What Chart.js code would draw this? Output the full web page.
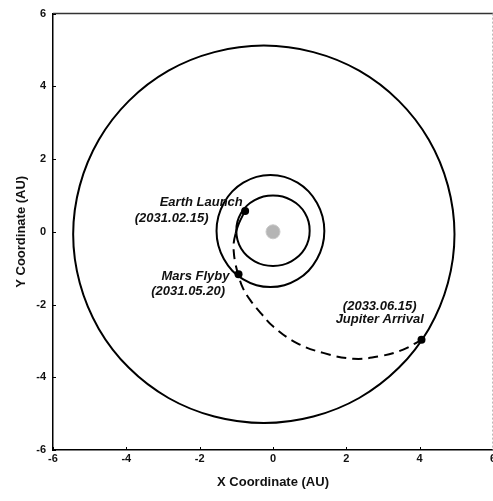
<!DOCTYPE html>
<html>
<head>
<meta charset="utf-8">
<script src="https://cdn.jsdelivr.net/npm/chart.js@4/dist/chart.umd.min.js"></script>
<style>
  html, body { margin: 0; padding: 0; background: #fff; overflow: hidden; width: 493px; height: 501px; }
  canvas { display: block; }
</style>
</head>
<body>
<canvas id="c" width="510" height="501" style="width:510px;height:501px"></canvas>
<script>
// ---- Data (AU) ----
const xTickValues = [-6, -4, -2, 0, 2, 4, 6];
const yTickValues = [-6, -4, -2, 0, 2, 4, 6];

const earthX = [0.97, 1.00, 0.97, 0.87, 0.71, 0.50, 0.26, 0.00, -0.26, -0.50, -0.71, -0.87, -0.97, -1.00, -0.97, -0.87, -0.71, -0.50, -0.26, 0.00, 0.26, 0.50, 0.71, 0.87, 0.97, 1.00, 0.97];
const earthY = [-0.22, 0.03, 0.28, 0.52, 0.72, 0.87, 0.97, 1.00, 0.97, 0.87, 0.72, 0.52, 0.28, 0.03, -0.22, -0.46, -0.66, -0.81, -0.91, -0.94, -0.91, -0.81, -0.66, -0.46, -0.22, 0.03, 0.28];

// Mars orbit
const marsX = [1.35, 1.40, 1.35, 1.20, 0.97, 0.67, 0.31, -0.07, -0.45, -0.81, -1.11, -1.34, -1.49, -1.54, -1.49, -1.34, -1.11, -0.81, -0.45, -0.07, 0.31, 0.67, 0.97, 1.20, 1.35, 1.40, 1.35];
const marsY = [-0.38, 0.02, 0.42, 0.79, 1.11, 1.35, 1.51, 1.56, 1.51, 1.35, 1.11, 0.79, 0.42, 0.02, -0.38, -0.75, -1.07, -1.31, -1.47, -1.52, -1.47, -1.31, -1.07, -0.75, -0.38, 0.02, 0.42];

// Jupiter orbit
const jupiterX = [4.77, 4.95, 4.77, 4.25, 3.43, 2.35, 1.10, -0.25, -1.60, -2.85, -3.93, -4.75, -5.27, -5.45, -5.27, -4.75, -3.93, -2.85, -1.60, -0.25, 1.10, 2.35, 3.43, 4.25, 4.77, 4.95, 4.77];
const jupiterY = [-1.41, -0.07, 1.27, 2.53, 3.60, 4.43, 4.94, 5.12, 4.94, 4.43, 3.60, 2.53, 1.27, -0.07, -1.41, -2.67, -3.74, -4.57, -5.08, -5.26, -5.08, -4.57, -3.74, -2.67, -1.41, -0.07, 1.27];

// Transfer trajectory: Earth launch -> Mars flyby -> Jupiter arrival
const transferX = [-0.76, -0.93, -1.02, -1.07, -1.07, -1.03, -0.95, -0.82, -0.62, -0.32, 0.00, 0.65, 1.37, 2.19, 2.92, 3.55, 4.05];
const transferY = [0.58, 0.23, -0.05, -0.30, -0.55, -0.85, -1.17, -1.55, -1.88, -2.25, -2.60, -3.06, -3.33, -3.49, -3.42, -3.24, -2.97];
const transferSolidSegments = 2; // first part near launch drawn solid

// Sun
const sunX = [0];
const sunY = [0];

// Events
const eventNames = ['Earth Launch', 'Mars Flyby', 'Jupiter Arrival'];
const eventDates = ['(2031.02.15)', '(2031.05.20)', '(2033.06.15)'];
const eventX = [-0.76, -0.94, 4.05];
const eventY = [0.575, -1.17, -2.97];

// Annotation anchors (data coordinates) for name and date lines
const nameAnchorX = [-3.09, -3.04, 2.91];
const nameAnchorY = [0.82, -1.23, -2.40];
const dateAnchorX = [-3.77, -3.32, 2.91];
const dateAnchorY = [0.355, -1.64, -2.05];
const anchorAlign = ['left', 'left', 'center'];

const toPts = (xs, ys) => xs.map((v, i) => ({ x: v, y: ys[i] }));

const FONT = '"Liberation Sans", Arial, Helvetica, sans-serif';

const overlay = {
  id: 'overlay',
  afterDraw(chart) {
    const { ctx, chartArea: a, scales: { x, y } } = chart;
    ctx.save();
    ctx.strokeStyle = '#333';
    ctx.lineWidth = 1.5;
    ctx.beginPath();
    ctx.moveTo(a.left, a.top);
    ctx.lineTo(a.right, a.top);
    ctx.stroke();
    ctx.strokeStyle = '#bbb';
    ctx.lineWidth = 1;
    ctx.setLineDash([2, 2]);
    ctx.beginPath();
    ctx.moveTo(a.right - 0.5, a.top);
    ctx.lineTo(a.right - 0.5, a.bottom);
    ctx.stroke();
    ctx.setLineDash([]);
    ctx.strokeStyle = '#000';
    ctx.lineWidth = 1;
    xTickValues.forEach(v => {
      const p = Math.round(x.getPixelForValue(v)) + 0.5;
      ctx.beginPath();
      ctx.moveTo(p, a.bottom);
      ctx.lineTo(p, a.bottom - 3);
      ctx.stroke();
    });
    yTickValues.forEach(v => {
      const p = Math.round(y.getPixelForValue(v)) + 0.5;
      ctx.beginPath();
      ctx.moveTo(a.left, p);
      ctx.lineTo(a.left + 3, p);
      ctx.stroke();
    });
    ctx.fillStyle = '#111';
    ctx.textBaseline = 'middle';
    ctx.font = 'italic bold 13px ' + FONT;
    eventNames.forEach((n, i) => {
      ctx.textAlign = anchorAlign[i];
      ctx.fillText(n, x.getPixelForValue(nameAnchorX[i]), y.getPixelForValue(nameAnchorY[i]));
      ctx.fillText(eventDates[i], x.getPixelForValue(dateAnchorX[i]), y.getPixelForValue(dateAnchorY[i]));
    });
    ctx.restore();
  }
};

// Orbit: hide the two guide segments at the ends so the loop closes smoothly
function orbitDataset(label, xs, ys) {
  const last = xs.length - 1;
  return {
    label, data: toPts(xs, ys), showLine: true, tension: 0.34,
    borderColor: '#000', borderWidth: 2, pointRadius: 0, fill: false,
    segment: {
      borderColor: c => (c.p0DataIndex === 0 || c.p1DataIndex === last) ? 'rgba(0,0,0,0)' : '#000'
    }
  };
}

new Chart(document.getElementById('c'), {
  type: 'scatter',
  data: {
    datasets: [
      orbitDataset('Jupiter orbit', jupiterX, jupiterY),
      orbitDataset('Mars orbit', marsX, marsY),
      orbitDataset('Earth orbit', earthX, earthY),
      { label: 'Transfer', data: toPts(transferX, transferY), showLine: true, tension: 0.4,
        borderColor: '#000', borderWidth: 2, pointRadius: 0, fill: false,
        segment: { borderDash: c => (c.p0DataIndex < transferSolidSegments ? [] : [10, 6]) } },
      { label: 'Sun', data: toPts(sunX, sunY), showLine: false,
        pointRadius: 7, backgroundColor: '#b5b5b5', borderColor: '#c8c8c8', borderWidth: 1 },
      { label: 'Events', data: toPts(eventX, eventY), showLine: false,
        pointRadius: 4, backgroundColor: '#000', borderColor: '#000', borderWidth: 0 }
    ]
  },
  options: {
    responsive: false,
    animation: false,
    devicePixelRatio: 1,
    layout: { padding: { left: 0, top: 11, right: 17, bottom: 0 } },
    plugins: { legend: { display: false }, tooltip: { enabled: false } },
    scales: {
      x: {
        type: 'linear', position: 'bottom', min: -6, max: 6,
        afterBuildTicks: s => { s.ticks = xTickValues.map(v => ({ value: v })); },
        afterFit: s => { s.height = 51; },
        grid: { display: false, drawTicks: false },
        border: { display: true, color: '#000', width: 1.5 },
        ticks: { color: '#111', font: { family: FONT, size: 11, weight: 'bold' }, padding: 2, maxRotation: 0, autoSkip: false },
        title: { display: true, text: 'X Coordinate (AU)', color: '#111',
                 font: { family: FONT, size: 13, weight: 'bold' }, padding: { top: 0, bottom: 11 } }
      },
      y: {
        type: 'linear', position: 'left', min: -6, max: 6,
        afterBuildTicks: s => { s.ticks = yTickValues.map(v => ({ value: v })); },
        afterFit: s => { s.width = 53; },
        grid: { display: false, drawTicks: false },
        border: { display: true, color: '#000', width: 1.5 },
        ticks: { color: '#111', font: { family: FONT, size: 11, weight: 'bold' }, padding: 7, autoSkip: false },
        title: { display: true, text: 'Y Coordinate (AU)', color: '#111',
                 font: { family: FONT, size: 13, weight: 'bold' }, padding: { top: 14, bottom: 0 } }
      }
    }
  },
  plugins: [overlay]
});
</script>
</body>
</html>
